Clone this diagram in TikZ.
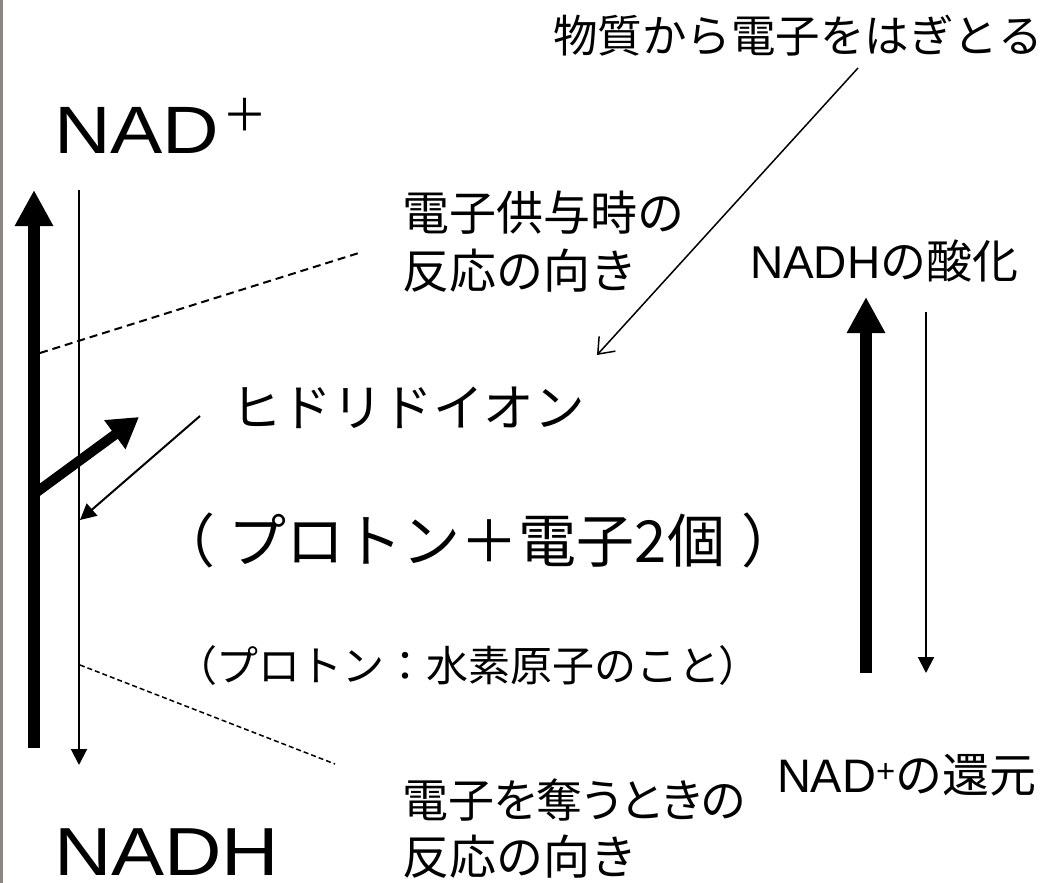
\documentclass[tikz,border=0pt]{standalone}
\usepackage{fontspec}
\setmainfont{Liberation Sans}
\newfontfamily\widesans[FakeStretch=1.17]{Liberation Sans}
\newfontfamily\cjk{Noto Sans CJK JP}
\newfontfamily\cjkp[RawFeature=+palt]{Noto Sans CJK JP}
\usetikzlibrary{arrows.meta}
\newcommand\fsz[1]{\fontsize{#1}{#1}\selectfont}
\definecolor{edgegray}{RGB}{138,134,130}
\begin{document}
\begin{tikzpicture}[x=1pt,y=-1pt,
  txt/.style={anchor=west, inner sep=0pt, outer sep=0pt},
  btxt/.style={anchor=base west, inner sep=0pt, outer sep=0pt},
  bigarrow/.style={line width=12pt, -{Triangle[length=36pt,width=36pt]}},
  brancharrow/.style={line width=10pt, -{Triangle[length=30pt,width=34pt]}},
  thinarrow/.style={line width=2pt, -{Triangle[length=16pt,width=16pt]}},
  barbarrow/.style={line width=1.5pt, -{Straight Barb[length=14pt,width=22pt,line width=1.5pt]}},
  dashA/.style={line width=2pt, dash pattern=on 8pt off 5pt},
  dashB/.style={line width=1.5pt, dash pattern=on 5pt off 3pt}]
\useasboundingbox (0,0) rectangle (1058,883);
\fill[white] (0,0) rectangle (1058,883);
\fill[edgegray] (0,0) rectangle (3,883);
% coordinates
\coordinate (Lb) at (34,748);
\coordinate (Lt) at (34,190);
\coordinate (Mt) at (79,190);
\coordinate (Mb) at (79,765);
\coordinate (Bs) at (34,494);
\coordinate (Be) at (139,417);
\coordinate (Hs) at (200,416);
\coordinate (He) at (80,520);
\coordinate (Ts) at (858,68);
\coordinate (Te) at (597,355);
\coordinate (Da1) at (40,353);
\coordinate (Da2) at (362,252);
\coordinate (Db1) at (80,665);
\coordinate (Db2) at (335,764);
\coordinate (Rb) at (866,673);
\coordinate (Rt) at (866,297);
\coordinate (Rs) at (926,312);
\coordinate (Re) at (926,673);
% arrows
\draw[bigarrow] (Lb) -- (Lt);
\draw[thinarrow] (Mt) -- (Mb);
\draw[brancharrow] (Bs) -- (Be);
\draw[thinarrow] (Hs) -- (He);
\draw[barbarrow] (Ts) -- (Te);
\draw[dashA] (Da1) -- (Da2);
\draw[dashB] (Db1) -- (Db2);
\draw[bigarrow] (Rb) -- (Rt);
\draw[thinarrow] (Rs) -- (Re);
% texts
\node[txt] (top) at (553,36) {\cjk\fsz{44.5}物質から電子をはぎとる};
\node[btxt] (nadp) at (54,153) {\widesans\fsz{67}NAD};
\node[anchor=center, inner sep=0pt] (plus) at (245,115) {\cjk\fsz{45}＋};
\node[txt] (don1) at (402,213) {\cjk\fsz{47}電子供与時の};
\node[txt] (don2) at (402,271) {\cjk\fsz{47}反応の向き};
\node[btxt] (ox) at (750,278) {\fsz{46}NADH{\cjk の酸化}};
\node[txt] (hyd) at (231,408) {\cjk\fsz{50.5}ヒドリドイオン};
\node[txt] (pe) at (184,540) {\cjk\fsz{58}{\cjkp （}\kern16pt プロトン＋電子2個\kern18pt{\cjkp ）}};
\node[txt] (pr) at (195,666) {\cjk\fsz{42}{\cjkp （}プロトン：水素原子のこと{\cjkp ）}};
\node[btxt] (red) at (777,792) {\fsz{47}NAD\textsuperscript{+}{\cjk の還元}};
\node[txt] (acc1) at (402,800) {\cjkp\fsz{46}電子を奪うときの};
\node[txt] (acc2) at (402,857) {\cjk\fsz{47}反応の向き};
\node[btxt] (nadh) at (54,875) {\widesans\fsz{68}NADH};
\end{tikzpicture}
\end{document}
